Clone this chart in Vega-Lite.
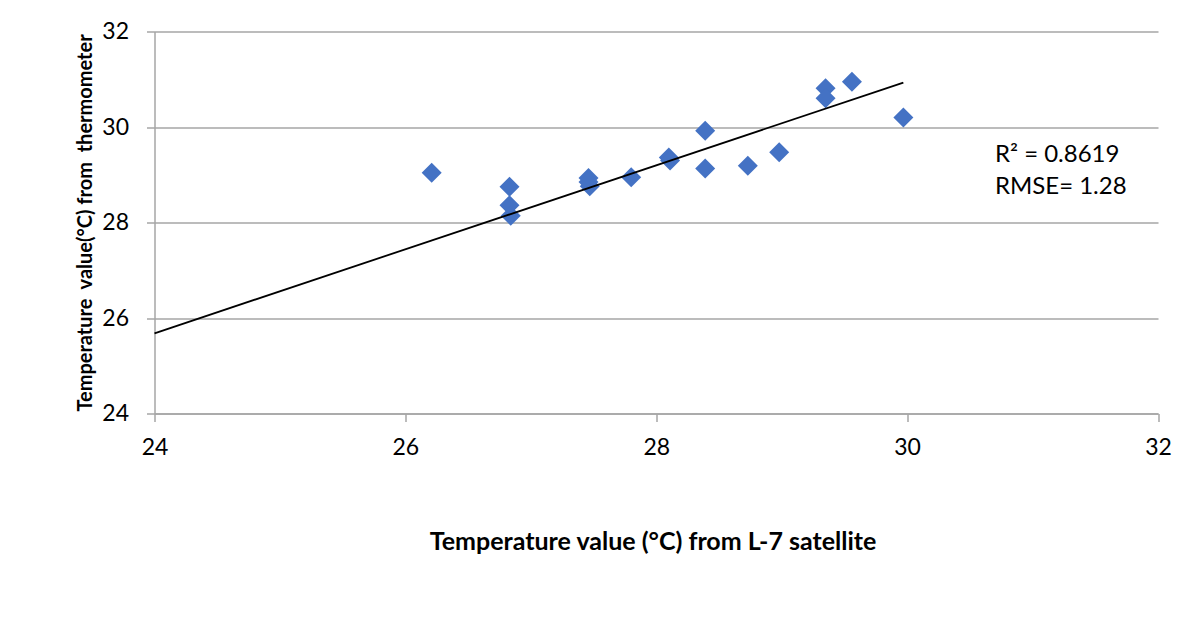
{
  "$schema": "https://vega.github.io/schema/vega-lite/v6.json",
  "width": 1003.5,
  "height": 382,
  "autosize": {"type": "none"},
  "padding": {"left": 154.5, "top": 31.5, "right": 27, "bottom": 230.5},
  "background": "white",
  "config": {
    "view": {"stroke": null},
    "font": "Lato",
    "axis": {
      "domainColor": "#A6A6A6",
      "domainWidth": 1.5,
      "tickColor": "#A6A6A6",
      "tickWidth": 1.5,
      "tickSize": 8,
      "gridColor": "#A6A6A6",
      "gridWidth": 1.5,
      "labelFont": "Lato",
      "labelFontSize": 23,
      "labelColor": "#000000",
      "labelFlush": false,
      "labelOverlap": false,
      "titleFont": "Lato",
      "titleFontWeight": "bold",
      "titleColor": "#000000"
    }
  },
  "datasets": {
    "readings": [
      {"satellite": 26.21, "thermometer": 29.04},
      {"satellite": 26.83, "thermometer": 28.75},
      {"satellite": 26.83, "thermometer": 28.36},
      {"satellite": 26.84, "thermometer": 28.14},
      {"satellite": 27.46, "thermometer": 28.93},
      {"satellite": 27.46, "thermometer": 28.85},
      {"satellite": 27.47, "thermometer": 28.76},
      {"satellite": 27.80, "thermometer": 28.95},
      {"satellite": 28.10, "thermometer": 29.36},
      {"satellite": 28.11, "thermometer": 29.30},
      {"satellite": 28.39, "thermometer": 29.92},
      {"satellite": 28.39, "thermometer": 29.13},
      {"satellite": 28.73, "thermometer": 29.19},
      {"satellite": 28.98, "thermometer": 29.47},
      {"satellite": 29.35, "thermometer": 30.81},
      {"satellite": 29.35, "thermometer": 30.60},
      {"satellite": 29.56, "thermometer": 30.95},
      {"satellite": 29.97, "thermometer": 30.20}
    ],
    "trend": [
      {"satellite": 24.0, "thermometer": 25.68},
      {"satellite": 29.97, "thermometer": 30.93}
    ],
    "stats": [
      {"satellite": 30.70, "thermometer": 29.41, "label": "R² = 0.8619"},
      {"satellite": 30.70, "thermometer": 28.74, "label": "RMSE= 1.28"}
    ]
  },
  "encoding": {
    "x": {
      "field": "satellite",
      "type": "quantitative",
      "scale": {"domain": [24, 32], "nice": false, "zero": false},
      "axis": {
        "values": [24, 26, 28, 30, 32],
        "grid": false,
        "labelPadding": 15,
        "title": "Temperature value (°C) from L-7 satellite",
        "titleFontSize": 25,
        "titleX": 498,
        "titleY": 136,
        "titleAnchor": null,
        "titleAlign": "center",
        "titleBaseline": "alphabetic"
      }
    },
    "y": {
      "field": "thermometer",
      "type": "quantitative",
      "scale": {"domain": [24, 32], "nice": false, "zero": false},
      "axis": {
        "values": [24, 26, 28, 30, 32],
        "grid": true,
        "labelPadding": 18,
        "title": "Temperature\u00a0 value(°C) from\u00a0 thermometer",
        "titleFontSize": 20,
        "titleAngle": -90,
        "titleX": -63.5,
        "titleY": 191,
        "titleAlign": "center",
        "titleBaseline": "alphabetic"
      }
    }
  },
  "layer": [
    {
      "data": {"name": "readings"},
      "mark": {"type": "point", "shape": "diamond", "filled": true, "size": 400, "color": "#4472C4", "opacity": 1}
    },
    {
      "data": {"name": "trend"},
      "mark": {"type": "line", "color": "#000000", "strokeWidth": 1.8}
    },
    {
      "data": {"name": "stats"},
      "mark": {"type": "text", "align": "left", "baseline": "middle", "font": "Lato", "fontSize": 24, "color": "#000000"},
      "encoding": {"text": {"field": "label"}}
    }
  ]
}
